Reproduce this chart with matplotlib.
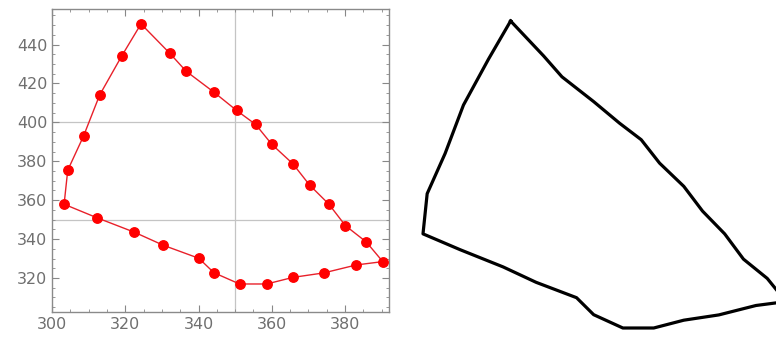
import matplotlib
matplotlib.use("Agg")
import matplotlib.pyplot as plt
from matplotlib.ticker import MultipleLocator

# outline points (closed loop)
xs = [324.3, 332.2, 336.6, 344.2, 350.4, 355.6, 360.0, 365.8, 370.3, 375.6,
      380.1, 385.8, 390.3, 383.1, 374.2, 365.8, 358.6, 351.2, 344.2, 340.1,
      330.4, 322.5, 312.2, 303.3, 304.3, 308.6, 313.0, 319.0]
ys = [450.6, 435.4, 426.3, 415.5, 406.1, 398.9, 388.7, 378.6, 367.8, 357.9,
      346.9, 338.5, 328.4, 326.7, 322.6, 320.3, 316.9, 316.9, 322.7, 330.1,
      336.8, 343.5, 351.0, 357.9, 375.4, 392.9, 414.0, 434.0]
grid_x = [350]
grid_y = [350, 400]

W, H = 776, 342
fig = plt.figure(figsize=(W / 100, H / 100), dpi=100)

lx = xs + xs[:1]
ly = ys + ys[:1]

# left: points with the joined curve
ax1 = fig.add_axes([52 / W, 1 - 312 / H, 337 / W, 302.5 / H])
for g in grid_x:
    ax1.axvline(g, color="#c4c4c4", lw=0.9, zorder=0)
for g in grid_y:
    ax1.axhline(g, color="#c4c4c4", lw=0.9, zorder=0)
ax1.plot(lx, ly, color="#e8202a", lw=1.0, zorder=2)
ax1.plot(xs, ys, "o", color="#ff0000", ms=6.8, mec="#ff0000", zorder=3)
ax1.set_xlim(300, 392)
ax1.set_ylim(302.5, 458)
ax1.xaxis.set_major_locator(MultipleLocator(20))
ax1.xaxis.set_minor_locator(MultipleLocator(5))
ax1.yaxis.set_major_locator(MultipleLocator(20))
ax1.yaxis.set_minor_locator(MultipleLocator(5))
ax1.tick_params(which="both", direction="in", top=True, right=True,
                color="#888888", labelcolor="#6f6f6f", labelsize=11.5)
ax1.tick_params(which="major", length=5, width=0.8)
ax1.tick_params(which="minor", length=2.5, width=0.6)
ax1.tick_params(labeltop=False, labelright=False)
for s in ax1.spines.values():
    s.set_color("#8a8a8a")
    s.set_linewidth(1.0)

# right: the same outline as a thick black line, no axes
ax2 = fig.add_axes([423 / W, 1 - 328 / H, 363 / W, 307 / H])
ax2.plot(lx, ly, color="black", lw=2.3, solid_joinstyle="round", clip_on=False)
ax2.set_xlim(303.3, 390.3)
ax2.set_ylim(316.9, 450.6)
ax2.axis("off")

fig.savefig("out.png", dpi=100)
